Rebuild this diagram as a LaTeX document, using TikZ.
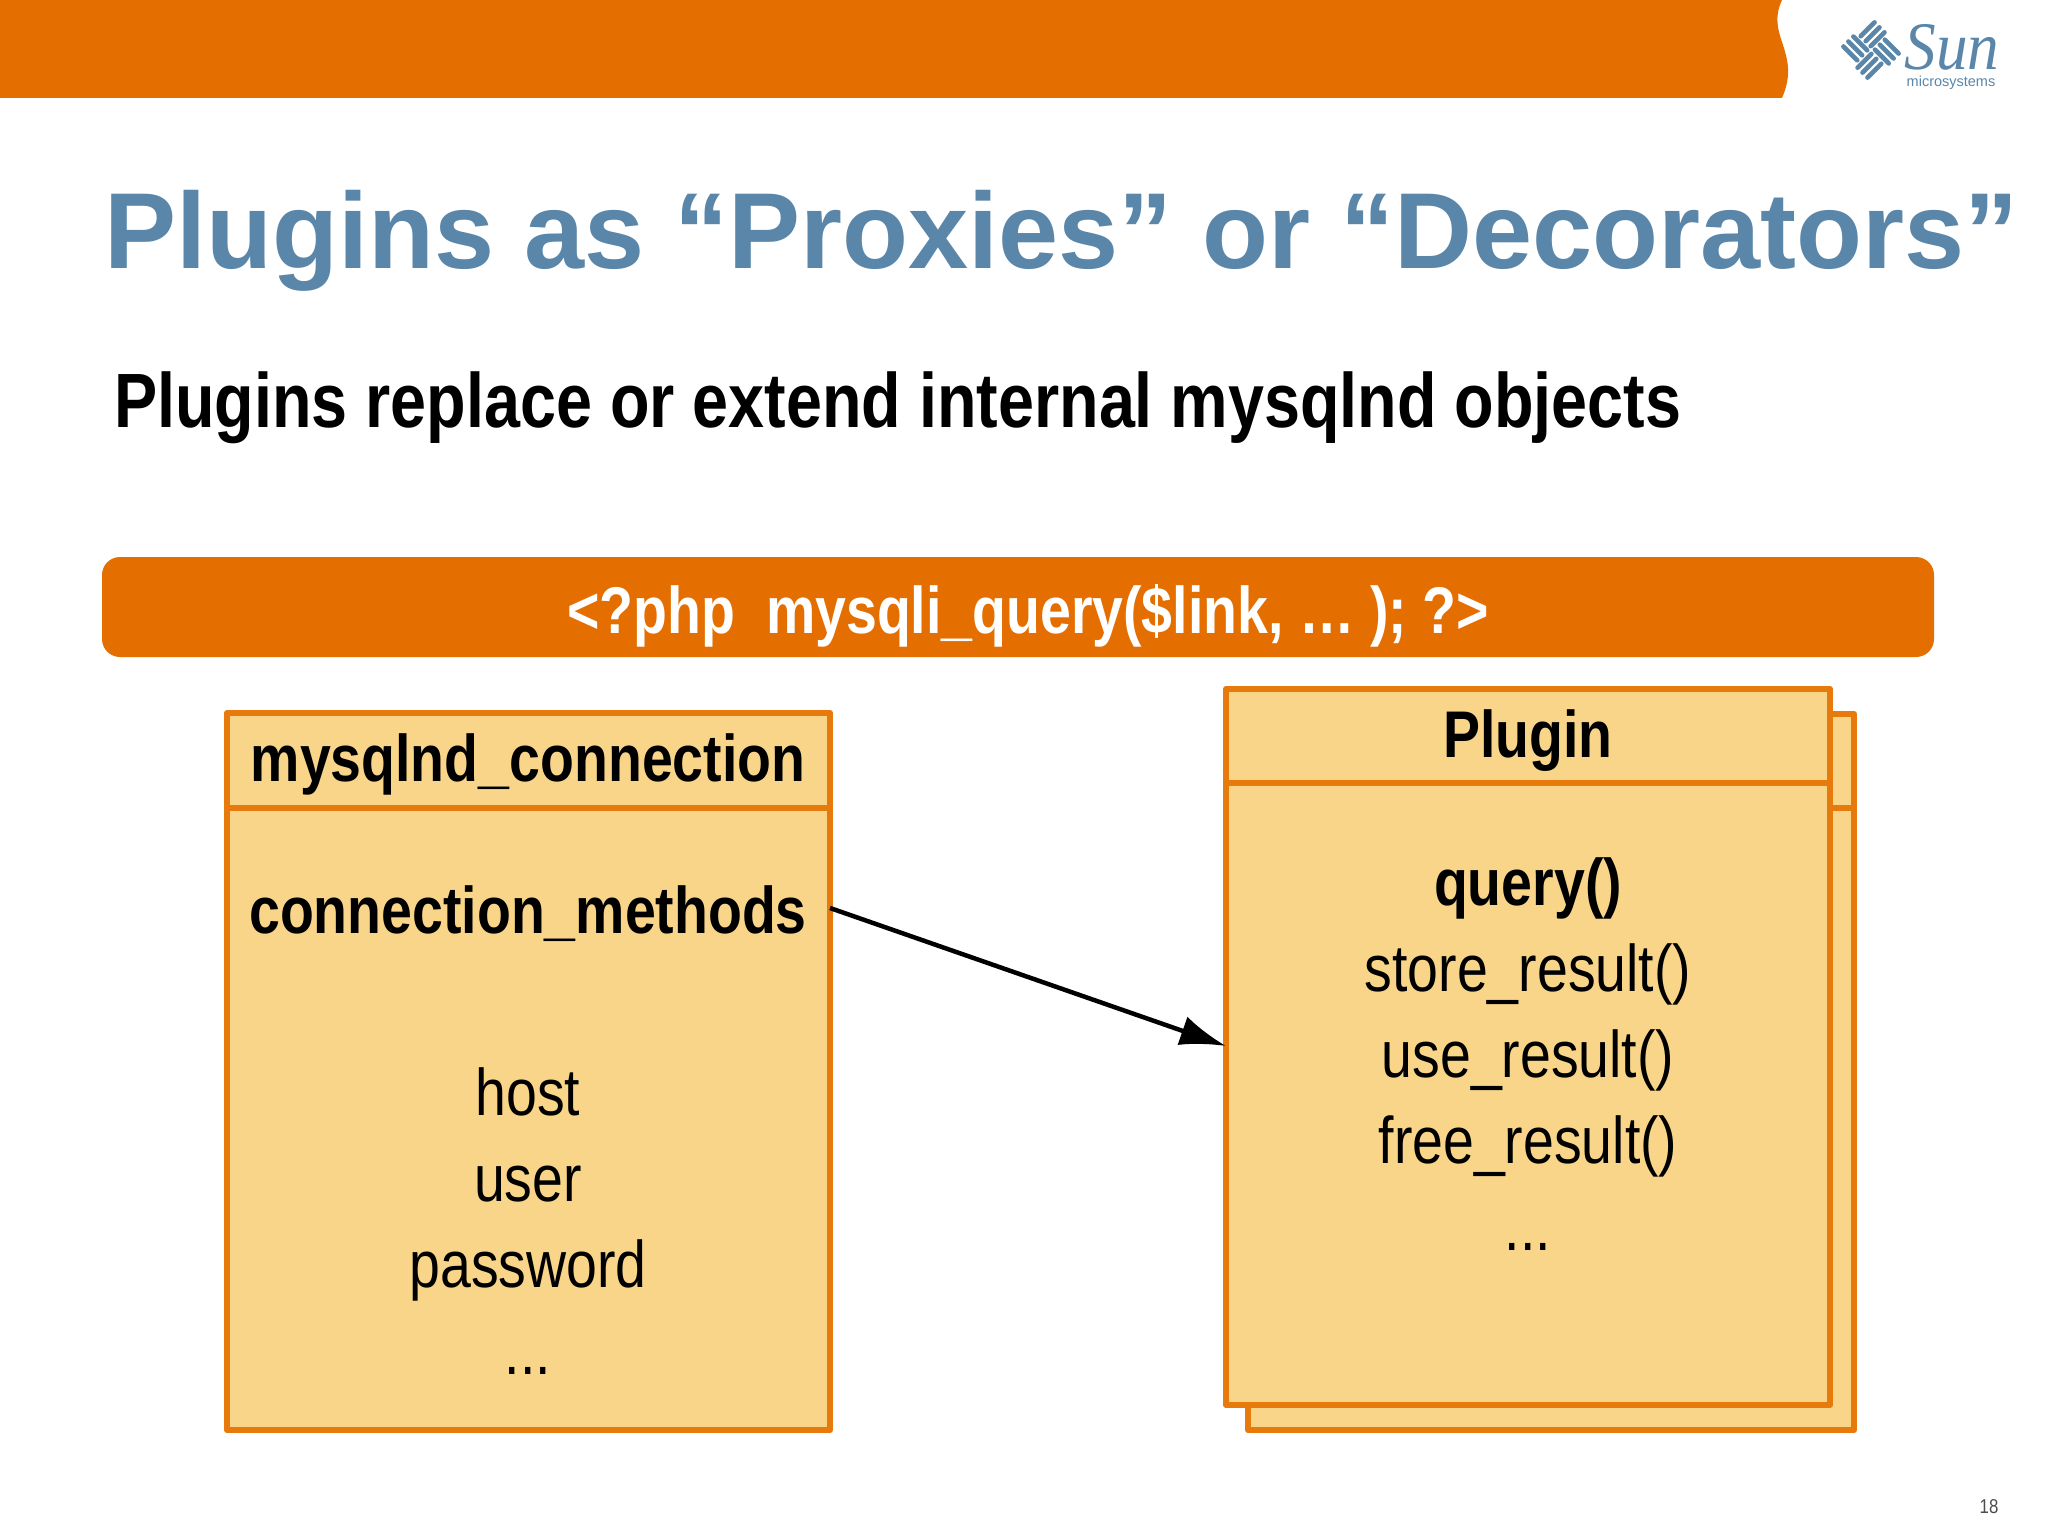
\documentclass[tikz,border=0pt]{standalone}
\usepackage{fontspec}
\setmainfont{Liberation Sans}
\newfontfamily\condf[FakeStretch=0.84]{Liberation Sans}
\newfontfamily\sunf[FakeStretch=0.93]{Liberation Serif}
\usetikzlibrary{arrows.meta}
\definecolor{sunorange}{HTML}{E46F00}
\definecolor{boxline}{HTML}{E77A0C}
\definecolor{boxfill}{HTML}{F8D588}
\definecolor{sunblue}{HTML}{5A86A9}
\newcommand{\fs}[1]{\fontsize{#1}{#1}\selectfont}
\tikzset{
  x=1pt,y=-1pt,
  umlbox/.style={draw=boxline,fill=boxfill,line width=6pt,line join=round,inner sep=0pt,outer sep=0pt},
  txt/.style={inner sep=0pt,outer sep=0pt,anchor=base,text=black,font=\condf\fs{66}},
  txtb/.style={txt,font=\condf\bfseries\fs{66}},
  logobar/.style={draw=sunblue,line width=4.6pt,line cap=round},
}
\begin{document}
\begin{tikzpicture}
\useasboundingbox (0,0) rectangle (2048,1536);
\fill[white] (0,0) rectangle (2048,1536);
% top band
\fill[sunorange] (0,0) -- (1782,0) .. controls (1774,17) and (1778,30) .. (1782,42)
  .. controls (1788,60) and (1792,75) .. (1782,98) -- (0,98) -- cycle;
% logo
\begin{scope}[shift={(1871,50)},rotate=45]
  \foreach \d in {-14,-7,0}{
    \draw[logobar] (2.5,\d-3) -- (22,\d-3);
    \draw[logobar] (-22,-\d+3) -- (-2.5,-\d+3);
    \draw[logobar] (\d-3,-2.5) -- (\d-3,-22);
    \draw[logobar] (-\d+3,2.5) -- (-\d+3,22);
  }
\end{scope}
\node[inner sep=0pt,anchor=base,text=sunblue,font=\sunf\itshape\fs{68}] (sun) at (1952,70) {Sun};
\node[inner sep=0pt,anchor=base,text=sunblue,font=\fs{14.5}] (micro) at (1951,87) {microsystems};
% title
\node[inner sep=0pt,anchor=base west,text=sunblue,font=\bfseries\fs{108}] (title) at (104,268) {Plugins as “Proxies” or “Decorators”};
\node[inner sep=0pt,anchor=base west,text=black,font=\condf\bfseries\fs{77}] (sub) at (114,427) {Plugins replace or extend internal mysqlnd objects};
% banner
\node[fill=sunorange,rounded corners=18pt,inner sep=0pt,minimum width=1832pt,minimum height=100pt] (banner) at (1018,607) {};
\node[inner sep=0pt,anchor=base,text=white,font=\condf\bfseries\fs{66}] (php) at (1028,633) {<?php\ \ mysqli\_query(\$link, … ); ?>};
% left box
\node[umlbox,minimum width=603pt,minimum height=95pt] (lhead) at (528.5,760.5) {};
\node[umlbox,minimum width=603pt,minimum height=622pt] (lbody) at (528.5,1119) {};
\node[txtb] (lt) at (528,781) {mysqlnd\_connection};
\node[txtb] (cm) at (528,933) {connection\_methods};
\node[txt] (host) at (528,1115) {host};
\node[txt] (user) at (528,1201) {user};
\node[txt] (pw) at (528,1287) {password};
\node[txt] (ldots) at (528,1374) {...};
% right back box
\node[umlbox,minimum width=606pt,minimum height=94pt] (bhead) at (1551,761) {};
\node[umlbox,minimum width=606pt,minimum height=622pt] (bbody) at (1551,1119) {};
% right front box
\node[umlbox,minimum width=604pt,minimum height=94pt] (fhead) at (1528,736) {};
\node[umlbox,minimum width=604pt,minimum height=622pt] (fbody) at (1528,1094) {};
\node[txtb] (pt) at (1528,757) {Plugin};
\node[txtb] (q) at (1528,905) {query()};
\node[txt] (s) at (1528,991) {store\_result()};
\node[txt] (u) at (1528,1077) {use\_result()};
\node[txt] (f) at (1528,1163) {free\_result()};
\node[txt] (rdots) at (1528,1250) {...};
% arrow
\coordinate (astart) at (832,908);
\coordinate (aend) at (1224,1046);
\draw[line width=4.5pt,-{Latex[length=46pt,width=30pt]}] (lbody.east |- astart) -- (fbody.west |- aend);
% page number
\node[inner sep=0pt,anchor=base,text=black!70,font=\condf\fs{20}] (pg) at (1989,1513) {18};
\end{tikzpicture}
\end{document}
